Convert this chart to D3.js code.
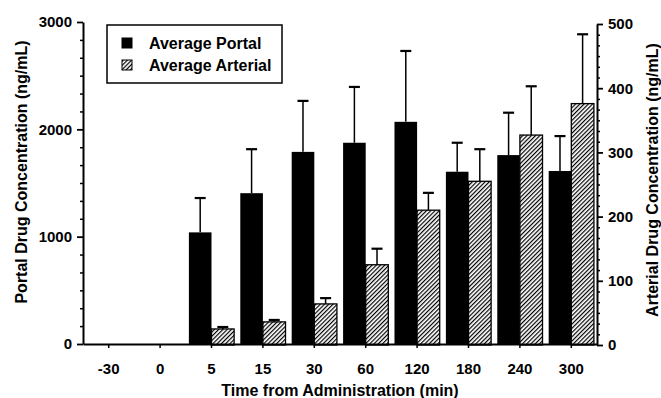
<!DOCTYPE html>
<html>
<head>
<meta charset="utf-8">
<script src="https://cdn.jsdelivr.net/npm/d3@7"></script>
<style>
  body { margin: 0; background: #fff; }
  svg { display: block; font-family: "Liberation Sans", Arial, sans-serif; }
  .axis text { font-size: 15px; font-weight: bold; fill: #000; }
  .axis path, .axis line { stroke: #000; }
</style>
</head>
<body>
<svg id="chart" width="661" height="398"></svg>
<script>
// time points (min)
const categories = ["-30", "0", "5", "15", "30", "60", "120", "180", "240", "300"];
// portal vein concentration, ng/mL (left axis)
const portalMean = [0, 0, 1040, 1405, 1790, 1875, 2070, 1605, 1760, 1612];
const portalSD   = [0, 0, 320, 410, 475, 520, 660, 270, 395, 325];
// arterial concentration, ng/mL (right axis)
const arterialMean = [0, 0, 25, 36, 64, 125, 210, 255, 327, 376];
const arterialSD   = [0, 0, 3, 3, 9, 25, 27, 50, 76, 108];

const leftTicks = [0, 1000, 2000, 3000];
const rightTicks = [0, 100, 200, 300, 400, 500];
const seriesNames = ["Average Portal", "Average Arterial"];

const svg = d3.select("#chart");

const x = d3.scaleBand()
  .domain(categories)
  .range([83, 597])
  .paddingInner(0.12)
  .paddingOuter(0.06);
const sub = d3.scaleBand()
  .domain(["portal", "arterial"])
  .range([0, x.bandwidth()]);
const yL = d3.scaleLinear().domain([0, 3000]).range([344, 22]);
const yR = d3.scaleLinear().domain([0, 500]).range([345, 24]);

// hatch pattern for arterial bars
svg.append("defs").append("pattern")
    .attr("id", "hatch")
    .attr("patternUnits", "userSpaceOnUse")
    .attr("width", 3)
    .attr("height", 3)
    .attr("patternTransform", "rotate(45)")
  .call(p => {
    p.append("rect").attr("width", 3).attr("height", 3).attr("fill", "#fff");
    p.append("line")
      .attr("x1", 0.6).attr("y1", 0).attr("x2", 0.6).attr("y2", 3)
      .attr("stroke", "#000").attr("stroke-width", 1.2);
  });

// bars
const rows = categories.map((c, i) => ({
  c, pm: portalMean[i], ps: portalSD[i], am: arterialMean[i], as: arterialSD[i]
}));

const g = svg.append("g");

g.selectAll("rect.portal")
  .data(rows.filter(d => d.pm > 0))
  .join("rect")
    .attr("class", "portal")
    .attr("x", d => x(d.c) + sub("portal"))
    .attr("width", sub.bandwidth())
    .attr("y", d => yL(d.pm))
    .attr("height", d => yL(0) - yL(d.pm))
    .attr("fill", "#000");

g.selectAll("rect.arterial")
  .data(rows.filter(d => d.am > 0))
  .join("rect")
    .attr("class", "arterial")
    .attr("x", d => x(d.c) + sub("arterial"))
    .attr("width", sub.bandwidth())
    .attr("y", d => yR(d.am))
    .attr("height", d => yR(0) - yR(d.am))
    .attr("fill", "url(#hatch)")
    .attr("stroke", "#000")
    .attr("stroke-width", 1.3);

// error bars
function errorBars(data, key, mean, sd, y) {
  const cx = d => x(d.c) + sub(key) + sub.bandwidth() / 2;
  const eg = g.selectAll("g.err-" + key)
    .data(data.filter(d => d[sd] > 0))
    .join("g")
      .attr("class", "err-" + key);
  eg.append("line")
    .attr("x1", cx).attr("x2", cx)
    .attr("y1", d => y(d[mean]))
    .attr("y2", d => y(d[mean] + d[sd]))
    .attr("stroke", "#000").attr("stroke-width", 1.5);
  eg.append("line")
    .attr("x1", d => cx(d) - 5.5).attr("x2", d => cx(d) + 5.5)
    .attr("y1", d => y(d[mean] + d[sd]))
    .attr("y2", d => y(d[mean] + d[sd]))
    .attr("stroke", "#000").attr("stroke-width", 2.2);
}
errorBars(rows, "portal", "pm", "ps", yL);
errorBars(rows, "arterial", "am", "as", yR);

// axes
const minorL = d3.range(0, 3001, 1000 / 6).filter(v => Math.round(v) % 1000 !== 0);
const minorR = d3.range(0, 501, 100 / 6).filter(v => Math.round(v) % 100 !== 0);

svg.append("g")
    .attr("class", "axis")
    .attr("transform", "translate(83,0)")
    .call(d3.axisLeft(yL).tickValues(minorL).tickSize(3).tickSizeOuter(0).tickFormat(""))
    .call(a => a.select(".domain").remove())
    .selectAll("line").attr("stroke-width", 1.5);
svg.append("g")
    .attr("class", "axis")
    .attr("transform", "translate(83,0)")
    .call(d3.axisLeft(yL).tickValues(leftTicks).tickSize(6).tickSizeOuter(0).tickPadding(5).tickFormat(d3.format("d")))
    .call(a => a.select(".domain").attr("stroke-width", 2))
    .call(a => a.selectAll("line").attr("stroke-width", 1.8));

svg.append("g")
    .attr("class", "axis")
    .attr("transform", "translate(597,0)")
    .call(d3.axisRight(yR).tickValues(minorR).tickSize(3).tickSizeOuter(0).tickFormat(""))
    .call(a => a.select(".domain").remove())
    .selectAll("line").attr("stroke-width", 1.5);
svg.append("g")
    .attr("class", "axis")
    .attr("transform", "translate(597,0)")
    .call(d3.axisRight(yR).tickValues(rightTicks).tickSize(6).tickSizeOuter(0).tickPadding(5).tickFormat(d3.format("d")))
    .call(a => a.select(".domain").attr("stroke-width", 2))
    .call(a => a.selectAll("line").attr("stroke-width", 1.8));

svg.append("g")
    .attr("class", "axis")
    .attr("transform", "translate(0,344)")
    .call(d3.axisBottom(x).tickSize(4).tickSizeOuter(0).tickPadding(15))
    .call(a => a.select(".domain").attr("stroke-width", 2))
    .call(a => a.selectAll("line").attr("stroke-width", 1.5));

// axis titles
const title = { "font-size": "16px", "font-weight": "bold", "fill": "#000" };
function addText(sel) { Object.entries(title).forEach(([k, v]) => sel.attr(k, v)); return sel; }

addText(svg.append("text"))
  .attr("transform", "translate(21,172) rotate(-90)")
  .attr("text-anchor", "middle")
  .attr("dominant-baseline", "central")
  .text("Portal Drug Concentration (ng/mL)");
addText(svg.append("text"))
  .attr("transform", "translate(652,180) rotate(-90)")
  .attr("text-anchor", "middle")
  .attr("dominant-baseline", "central")
  .text("Arterial Drug Concentration (ng/mL)");
addText(svg.append("text"))
  .attr("x", 340).attr("y", 396)
  .attr("text-anchor", "middle")
  .text("Time from Administration (min)");

// legend
const lg = svg.append("g");
lg.append("rect")
  .attr("x", 107).attr("y", 25).attr("width", 175).attr("height", 58)
  .attr("fill", "#fff").attr("stroke", "#000").attr("stroke-width", 1.5);
seriesNames.forEach((name, i) => {
  lg.append("rect")
    .attr("x", 122).attr("y", 38 + i * 22).attr("width", 10).attr("height", 10)
    .attr("fill", i === 0 ? "#000" : "url(#hatch)")
    .attr("stroke", "#000").attr("stroke-width", 1);
  addText(lg.append("text"))
    .attr("x", 149).attr("y", 49 + i * 22)
    .text(name);
});
</script>
</body>
</html>
